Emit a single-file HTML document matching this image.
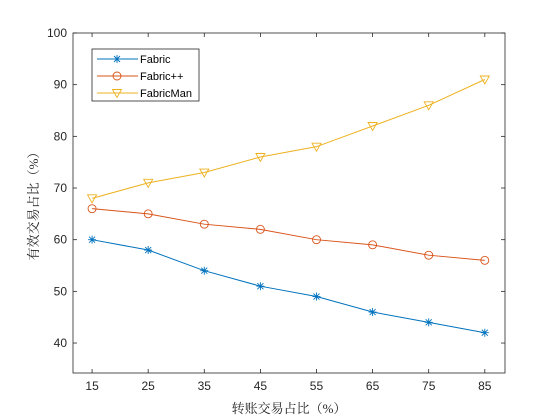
<!DOCTYPE html>
<html><head><meta charset="utf-8"><style>
body{margin:0;background:#fff;}
svg{display:block;font-family:"Liberation Sans","Noto Sans CJK SC",sans-serif;}
</style></head><body>
<svg id="chart" width="560" height="420">
<rect x="0" y="0" width="560" height="420" fill="#fff"/>
<rect x="73" y="33" width="432" height="340" fill="#fff" stroke="#262626" stroke-width="0.8"/>
<g id="g"></g>
</svg>
<script>
const categories=[15,25,35,45,55,65,75,85];
const fabric=[60,58,54,51,49,46,44,42];
const fabricPP=[66,65,63,62,60,59,57,56];
const fabricMan=[68,71,73,76,78,82,86,91];
const yTicks=[40,50,60,70,80,90,100];
const NS="http://www.w3.org/2000/svg";
const g=document.getElementById('g');
const X0=73,X1=505,Y0=373,Y1=33,xmin=11.6,xmax=88.6,ymin=34.2,ymax=100;
const sx=v=>X0+(v-xmin)/(xmax-xmin)*(X1-X0);
const sy=v=>Y0-(v-ymin)/(ymax-ymin)*(Y0-Y1);
function el(t,a,p){const e=document.createElementNS(NS,t);for(const k in a)e.setAttribute(k,a[k]);(p||g).appendChild(e);return e;}
categories.forEach(c=>{
 const x=sx(c);
 const t=el('line',{x1:x,x2:x,y1:Y0,y2:Y0-4,stroke:'#262626','stroke-width':0.8});
 
 
 el('line',{x1:x,x2:x,y1:Y1,y2:Y1+4,stroke:'#262626','stroke-width':0.8});
 const l=el('text',{x:x,y:Y0+17,'text-anchor':'middle','font-size':12,fill:'#262626'});l.textContent=c;
 
 
});
yTicks.forEach(v=>{
 const y=sy(v);
 const t=el('line',{x1:X0,x2:X0+4,y1:y,y2:y,stroke:'#262626','stroke-width':0.8});
 
 
 el('line',{x1:X1,x2:X1-4,y1:y,y2:y,stroke:'#262626','stroke-width':0.8});
 const l=el('text',{x:X0-6,y:y+4,'text-anchor':'end','font-size':12,fill:'#262626'});l.textContent=v;
 
 
});
function marker(type,x,y,c,p){
 if(type==='star'){
  el('path',{d:`M${x-4} ${y}H${x+4}M${x} ${y-4}V${y+4}M${x-3} ${y-3}L${x+3} ${y+3}M${x-3} ${y+3}L${x+3} ${y-3}`,stroke:c,'stroke-width':0.9,fill:'none'},p);
 }else if(type==='circle'){
  el('circle',{cx:x,cy:y,r:4,stroke:c,fill:'none','stroke-width':0.9},p);
 }else{
  el('path',{d:`M${x-4.5} ${y-3.5}L${x+4.5} ${y-3.5}L${x} ${y+4.5}Z`,stroke:c,fill:'none','stroke-width':0.9},p);
 }
}
const series=[[fabric,'#0072BD','star','Fabric'],[fabricPP,'#D95319','circle','Fabric++'],[fabricMan,'#EDB120','tri','FabricMan']];
series.forEach(([d,c,m,n])=>{
 const grp=el('g',{});
 
 
 el('polyline',{points:d.map((v,i)=>sx(categories[i])+','+sy(v)).join(' '),fill:'none',stroke:c,'stroke-width':1},grp);
 d.forEach((v,i)=>marker(m,sx(categories[i]),sy(v),c,grp));
});
const lg=el('g',{});


el('rect',{x:92,y:49,width:107,height:52,fill:'#fff',stroke:'#262626','stroke-width':0.8},lg);
series.forEach(([d,c,m,n],i)=>{
 const y=59+i*17;
 const e=el('g',{},lg);
 
 
 el('line',{x1:97,x2:138,y1:y,y2:y,stroke:c,'stroke-width':1},e);
 marker(m,117,y,c,e);
 const t=el('text',{x:140,y:y+4,'font-size':11,fill:'#000'},e);t.textContent=n;
});
const xt=el('text',{x:289,y:413,'text-anchor':'middle','font-size':13,fill:'#262626','font-family':'"Liberation Serif","Noto Serif CJK SC",serif'});xt.textContent='转账交易占比（%）';


const yt=el('text',{x:0,y:0,'text-anchor':'middle','font-size':13,fill:'#262626','font-family':'"Liberation Serif","Noto Serif CJK SC",serif',transform:'translate(38,203) rotate(-90)'});yt.textContent='有效交易占比（%）';


</script>
</body></html>
